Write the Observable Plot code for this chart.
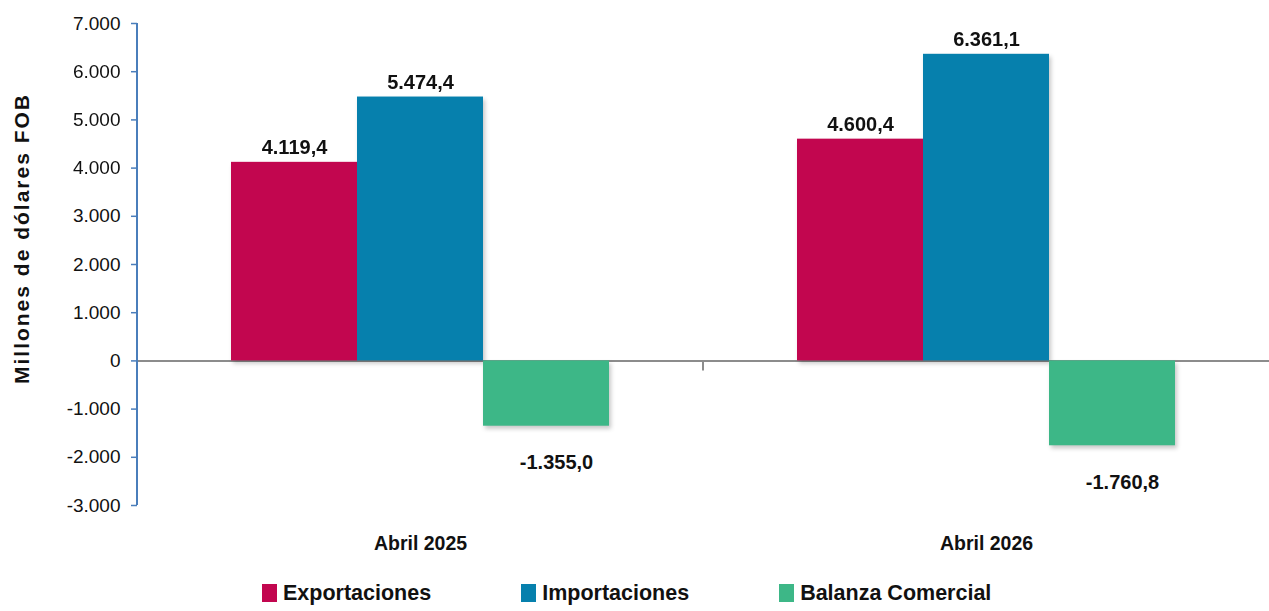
<!DOCTYPE html>
<html><head><meta charset="utf-8">
<script src="https://cdn.jsdelivr.net/npm/d3@7"></script>
<script src="https://cdn.jsdelivr.net/npm/@observablehq/plot@0.6"></script>
<style>
html,body{margin:0;padding:0;background:#fff;}
body{width:1269px;height:611px;overflow:hidden;font-family:"Liberation Sans",Arial,sans-serif;}
#legend{display:flex;align-items:center;height:36px;padding-left:262px;gap:90px;}
.item{display:flex;align-items:center;font-weight:bold;font-size:21.5px;color:#111;}
.sw{width:15px;height:18px;margin-right:6px;}
svg{overflow:visible}
</style></head><body><div id="chart"></div><div id="legend"></div>
<script>
const periods = ["Abril 2025", "Abril 2026"];
const series = ["Exportaciones", "Importaciones", "Balanza Comercial"];
const exportaciones = [4119.4, 4600.4];
const importaciones = [5474.4, 6361.1];
const balanza = [-1355.0, -1760.8];
const colors = ["#c2064f", "#0680ad", "#3db787"];
const yTicks = [-3000, -2000, -1000, 0, 1000, 2000, 3000, 4000, 5000, 6000, 7000];
const yTitle = "Millones de dólares FOB";

const loc = d3.formatLocale({decimal: ",", thousands: ".", grouping: [3], currency: ["", ""], minus: "-"});
const fmt0 = loc.format(",.0f");
const fmt1 = loc.format(",.1f");

const valuesBySeries = [exportaciones, importaciones, balanza];
const data = [];
periods.forEach((p, i) => series.forEach((s, j) => data.push({period: p, series: s, value: valuesBySeries[j][i]})));

// blue y-axis line, drawn on the left edge of the first facet
function axisLine(index, scales, values, dimensions) {
  const x = dimensions.marginLeft;
  return d3.create("svg:line").attr("x1", x).attr("x2", x)
    .attr("y1", scales.y(yTicks[0])).attr("y2", scales.y(yTicks[yTicks.length - 1]))
    .attr("stroke", "#4a7ebb").attr("stroke-width", 2).node();
}
// grey category separator tick, drawn on the left edge of the second facet
function catTick(index, scales, values, dimensions) {
  const x = dimensions.marginLeft;
  const y0 = scales.y(0);
  return d3.create("svg:line").attr("x1", x).attr("x2", x).attr("y1", y0).attr("y2", y0 + 10)
    .attr("stroke", "#8c8c8c").attr("stroke-width", 2).node();
}

const chart = Plot.plot({
  width: 1269,
  height: 575,
  marginLeft: 137,
  marginRight: 0,
  marginTop: 23,
  marginBottom: 70,
  style: {fontFamily: '"Liberation Sans", Arial, sans-serif', color: "#111", background: "#fff"},
  fx: {domain: periods, paddingInner: 0, paddingOuter: 0},
  x: {domain: series, paddingInner: 0, paddingOuter: 0.746, axis: null},
  y: {domain: [-3000, 7000]},
  color: {domain: series, range: colors},
  marks: [
    Plot.ruleY([0], {stroke: "#8c8c8c", strokeWidth: 2}),
    Plot.barY(data, {fx: "period", x: "series", y: "value", fill: "series"}),
    Plot.text(data.filter(d => d.value >= 0), {fx: "period", x: "series", y: "value", text: d => fmt1(d.value), lineAnchor: "bottom", dy: -8, fontSize: 20, fontWeight: "bold", fill: "#111"}),
    Plot.text(data.filter(d => d.value < 0), {fx: "period", x: "series", y: "value", text: d => fmt1(d.value), lineAnchor: "top", dy: 29, dx: 10, fontSize: 20, fontWeight: "bold", fill: "#111"}),
    Plot.ruleY([0], {fx: () => periods[1], stroke: "#8c8c8c", strokeWidth: 2, render: catTick}),
    Plot.axisFx({anchor: "bottom", tickSize: 0, tickPadding: 31, fontSize: 19.5, fontWeight: "bold", label: null}),
    Plot.axisY({ticks: yTicks, tickFormat: fmt0, tickSize: 6, tickPadding: 11, stroke: "#4a7ebb", strokeWidth: 1.5, fill: "#111", fontSize: 19, label: null}),
    Plot.ruleY([0], {fx: () => periods[0], stroke: "#8c8c8c", strokeWidth: 2, render: axisLine}),
    Plot.text([yTitle], {fx: () => periods[0], frameAnchor: "left", text: d => d, rotate: -90, textAnchor: "middle", dx: -115, dy: -26, fontSize: 21, fontWeight: "bold", fill: "#111"})
  ]
});
document.getElementById("chart").appendChild(chart);

// style tweaks: letter spacing for the y title, soft shadow for bars
d3.select(chart).selectAll("text").filter(function() { return this.textContent === yTitle; })
  .style("letter-spacing", "2px");
d3.select(chart).selectAll('g[aria-label="bar"]')
  .style("filter", "drop-shadow(2px 3px 2px rgba(0,0,0,0.22))");

const legend = document.getElementById("legend");
series.forEach((s, i) => {
  const it = document.createElement("div");
  it.className = "item";
  const sw = document.createElement("span");
  sw.className = "sw";
  sw.style.background = colors[i];
  it.appendChild(sw);
  it.appendChild(document.createTextNode(s));
  legend.appendChild(it);
});
</script></body></html>
